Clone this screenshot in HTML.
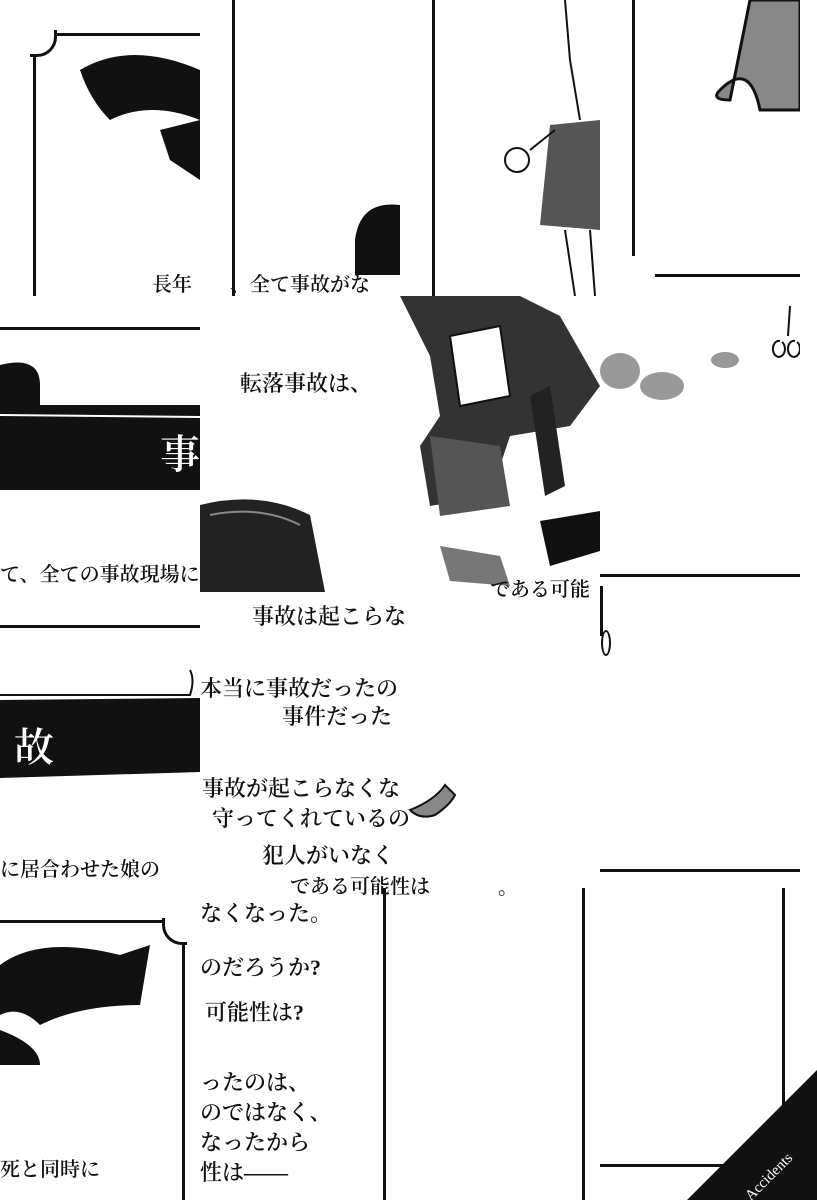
<!DOCTYPE html>
<html><head><meta charset="utf-8"><style>
body{margin:0;width:817px;height:1200px;background:#fff;position:relative;overflow:hidden;font-family:"Liberation Serif","Noto Serif CJK SC","Noto Sans CJK JP",serif;color:#111}
.a{position:absolute}
.l{position:absolute;background:#111}
.t{position:absolute;font-size:22px;white-space:nowrap;line-height:1;font-weight:600}
</style></head><body>
<!-- row 1 -->
<div class="l" style="left:33px;top:52px;width:3px;height:244px"></div>
<div class="l" style="left:52px;top:33px;width:148px;height:3px"></div>
<div class="a" style="left:30px;top:30px;width:24px;height:24px;border-right:3px solid #111;border-bottom:3px solid #111;border-radius:0 0 20px 0;background:#fff"></div>
<svg class="a" style="left:70px;top:40px" width="130" height="140"><path d="M10 30 Q60 0 130 30 L130 80 Q80 60 40 80 Q20 60 10 30Z" fill="#111"/><path d="M90 90 L130 80 L130 140 L100 120Z" fill="#111"/></svg>
<div class="t" style="left:152px;top:275px;font-size:20px">長年</div>
<div class="l" style="left:232px;top:0;width:3px;height:296px"></div>
<div class="t" style="left:230px;top:275px;font-size:20px">、全て事故がな</div>
<svg class="a" style="left:350px;top:200px" width="50" height="80"><path d="M50 5 Q10 0 5 40 L5 75 L50 75Z" fill="#111"/></svg>
<div class="l" style="left:432px;top:0;width:3px;height:296px"></div>
<svg class="a" style="left:495px;top:0" width="105" height="296"><path d="M70 0 L75 60 L85 120" stroke="#111" stroke-width="2" fill="none"/><path d="M55 125 L105 120 L105 230 L45 225Z" fill="#555"/><path d="M70 230 L80 296 M95 230 L100 296" stroke="#111" stroke-width="2"/><circle cx="22" cy="160" r="12" fill="none" stroke="#111" stroke-width="2"/><path d="M35 150 L60 130" stroke="#111" stroke-width="2"/></svg>
<div class="l" style="left:632px;top:0;width:3px;height:256px"></div>
<div class="l" style="left:655px;top:274px;width:145px;height:3px"></div>
<svg class="a" style="left:700px;top:0" width="100" height="115"><path d="M50 0 L100 0 L100 110 L60 110 Q50 60 20 90 Q10 100 30 100 Z" fill="#888" stroke="#111" stroke-width="3"/></svg>
<!-- row 2 -->
<div class="l" style="left:0;top:327px;width:200px;height:3px"></div>
<svg class="a" style="left:0;top:355px" width="200" height="140"><path d="M0 10 Q40 0 40 30 L40 50 L200 50 L200 135 L0 135Z" fill="#111"/><path d="M0 60 L200 62" stroke="#fff" stroke-width="2"/></svg>
<div class="t" style="left:160px;top:435px;font-size:40px;color:#fff">事</div>
<div class="t" style="left:0;top:565px;font-size:20px">て、全ての事故現場に</div>
<div class="t" style="left:240px;top:373px;font-size:22px">転落事故は、</div>
<svg class="a" style="left:200px;top:495px" width="200" height="97"><path d="M0 10 Q60 -5 110 20 L125 97 L0 97Z" fill="#222"/><path d="M10 20 Q60 10 100 30" stroke="#888" stroke-width="2" fill="none"/></svg>
<div class="a" style="left:400px;top:296px;width:200px;height:296px;background:#fff"></div>
<svg class="a" style="left:400px;top:296px" width="200" height="296"><path d="M0 0 L120 0 L160 20 L200 90 L170 130 L110 140 L90 200 L30 210 L20 150 L40 120 L30 60Z" fill="#333"/><path d="M50 40 L100 30 L110 100 L60 110Z" fill="#fff" stroke="#111" stroke-width="2"/><path d="M30 140 L100 150 L110 210 L40 220Z" fill="#555"/><path d="M130 100 L150 90 L165 190 L145 200Z" fill="#222"/><path d="M140 225 L200 215 L200 255 L150 270Z" fill="#111"/><path d="M40 250 L100 260 L110 290 L50 285Z" fill="#777"/></svg>
<svg class="a" style="left:600px;top:296px" width="200" height="296"><ellipse cx="20" cy="75" rx="20" ry="18" fill="#999"/><ellipse cx="62" cy="90" rx="22" ry="14" fill="#999"/><ellipse cx="125" cy="64" rx="14" ry="8" fill="#999"/><path d="M190 10 L188 40 M180 45 A6 8 0 1 0 182 46 M195 45 A6 8 0 1 0 197 46" stroke="#111" stroke-width="2" fill="none"/></svg>
<div class="l" style="left:600px;top:574px;width:200px;height:3px"></div>
<!-- row 3 -->
<div class="l" style="left:0;top:625px;width:200px;height:3px"></div>
<svg class="a" style="left:0;top:660px" width="200" height="130"><path d="M0 35 L190 35 Q195 20 190 10" stroke="#111" stroke-width="2" fill="none"/><path d="M0 40 L200 38 L200 112 L0 118Z" fill="#111"/></svg>
<div class="t" style="left:14px;top:728px;font-size:40px;color:#fff">故</div>
<div class="t" style="left:0;top:860px;font-size:20px">に居合わせた娘の</div>
<div class="t" style="left:252px;top:606px">事故は起こらな</div>
<div class="t" style="left:200px;top:678px">本当に事故だったの</div>
<div class="t" style="left:282px;top:706px">事件だった</div>
<div class="t" style="left:202px;top:778px">事故が起こらなくな</div>
<div class="t" style="left:212px;top:808px">守ってくれているの</div>
<div class="t" style="left:262px;top:845px">犯人がいなく</div>
<div class="t" style="left:490px;top:580px;font-size:20px">である可能</div>
<div class="t" style="left:290px;top:877px;font-size:20px">である可能性は</div>
<svg class="a" style="left:405px;top:780px" width="55" height="60"><path d="M5 30 Q30 20 40 5 L50 15 Q45 25 30 35 Q15 40 5 30Z" fill="#888" stroke="#111" stroke-width="2"/></svg>
<div class="l" style="left:600px;top:586px;width:3px;height:50px"></div>
<div class="a" style="left:601px;top:630px;width:6px;height:22px;border:2px solid #111;border-radius:50%"></div>
<div class="l" style="left:600px;top:869px;width:200px;height:3px"></div>
<!-- row 4 -->
<div class="l" style="left:0;top:920px;width:165px;height:3px"></div>
<div class="l" style="left:182px;top:940px;width:3px;height:260px"></div>
<div class="a" style="left:162px;top:918px;width:22px;height:24px;border-left:3px solid #111;border-bottom:3px solid #111;border-radius:0 0 0 20px;background:#fff"></div>
<svg class="a" style="left:0;top:935px" width="170" height="130"><path d="M0 30 Q40 0 120 20 L150 10 L140 70 Q80 70 40 90 Q20 70 0 80Z" fill="#111"/><path d="M0 95 Q40 110 40 130 L0 130Z" fill="#111"/></svg>
<div class="t" style="left:0;top:1160px;font-size:20px">死と同時に</div>
<div class="t" style="left:200px;top:903px">なくなった。</div>
<div class="t" style="left:200px;top:957px">のだろうか?</div>
<div class="t" style="left:205px;top:1002px">可能性は?</div>
<div class="t" style="left:200px;top:1072px">ったのは、</div>
<div class="t" style="left:200px;top:1102px">のではなく、</div>
<div class="t" style="left:200px;top:1132px">なったから</div>
<div class="t" style="left:200px;top:1162px">性は――</div>
<div class="l" style="left:383px;top:888px;width:3px;height:312px"></div>
<div class="t" style="left:498px;top:878px;font-size:20px">。</div>
<div class="l" style="left:582px;top:888px;width:3px;height:312px"></div>
<div class="l" style="left:600px;top:1164px;width:185px;height:3px"></div>
<div class="l" style="left:782px;top:888px;width:3px;height:278px"></div>
<svg class="a" style="left:687px;top:1070px" width="130" height="130"><path d="M130 0 L130 130 L0 130Z" fill="#111"/><text x="0" y="0" transform="translate(85,110) rotate(-45)" fill="#fff" font-family="Liberation Serif, serif" font-size="15" text-anchor="middle">Accidents</text></svg>
</body></html>
